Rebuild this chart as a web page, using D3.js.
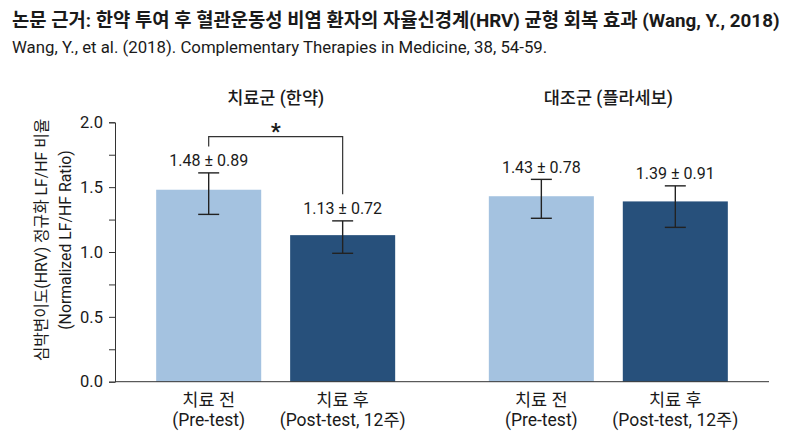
<!DOCTYPE html>
<meta charset="utf-8">
<title>HRV LF/HF ratio</title>
<style>
  body { margin: 0; background: #fff; }
  svg text { font-family: Roboto, "Noto Sans CJK KR", sans-serif; fill: #1a1a1a; }
  .axis path, .axis line { stroke: #333; }
</style>
<body>
<script src="https://cdn.jsdelivr.net/npm/d3@7/dist/d3.min.js"></script>
<script>

////* data *////
const groups = ["치료군 (한약)", "대조군 (플라세보)"];
const phases = ["pre", "post"];
const phaseLabels = [["치료 전", "(Pre-test)"], ["치료 후", "(Post-test, 12주)"]];
const means = [[1.48, 1.13], [1.43, 1.39]];
const sds = [[0.89, 0.72], [0.78, 0.91]];
// whisker lengths as drawn in the picture (above / below the mean)
const errUp = [[0.13, 0.11], [0.13, 0.12]];
const errDown = [[0.19, 0.14], [0.17, 0.20]];
const yTicks = [0, 0.25, 0.5, 0.75, 1.0, 1.25, 1.5, 1.75, 2.0];
const sigMark = "*";

const W = 800, H = 436;
const plot = { left: 115, right: 769, top: 122.3, bottom: 381.7 };
const colors = { pre: "#a4c2e0", post: "#27507b" };

const svg = d3.select("body").append("svg")
   .attr("width", W)
   .attr("height", H);

////* scales *////
const yScale = d3.scaleLinear()
   .domain([0, 2])
   .range([plot.bottom, plot.top]);

const groupScale = d3.scalePoint()
   .domain(groups)
   .range([plot.left, plot.right])
   .padding(0.483);

const phaseScale = d3.scaleBand()
   .domain(phases)
   .range([-119.5, 119.5])
   .paddingInner(0.216)
   .paddingOuter(0);

// flatten into one row per bar
const bars = [];
groups.forEach((g, gi) => {
   phases.forEach((p, pi) => {
      bars.push({ group: g, phase: p, gi, pi,
         mean: means[gi][pi], sd: sds[gi][pi],
         up: errUp[gi][pi], down: errDown[gi][pi],
         label: phaseLabels[pi] });
   });
});
const barX = d => groupScale(d.group) + phaseScale(d.phase);
const barCx = d => barX(d) + phaseScale.bandwidth() / 2;

////* titles *////
svg.append("text")
   .attr("x", 12).attr("y", 27)
   .style("font-size", "18.8px").style("font-weight", "bold")
   .text("논문 근거: 한약 투여 후 혈관운동성 비염 환자의 자율신경계(HRV) 균형 회복 효과 (Wang, Y., 2018)");

svg.append("text")
   .attr("x", 12).attr("y", 53)
   .style("font-size", "16.8px")
   .text("Wang, Y., et al. (2018). Complementary Therapies in Medicine, 38, 54-59.");

svg.selectAll("text.group")
   .data(groups)
   .join("text")
   .attr("class", "group")
   .attr("x", d => groupScale(d))
   .attr("y", 104)
   .attr("text-anchor", "middle")
   .style("font-size", "17.5px").style("font-weight", 500)
   .text(d => d);

////* bars *////
svg.append("g")
   .selectAll("rect")
   .data(bars)
   .join("rect")
   .attr("x", barX)
   .attr("y", d => yScale(d.mean))
   .attr("width", phaseScale.bandwidth())
   .attr("height", d => yScale(0) - yScale(d.mean))
   .attr("fill", d => colors[d.phase]);

////* error bars *////
const capHalf = 10.5;
const eb = svg.append("g")
   .attr("stroke", "#222")
   .attr("stroke-width", 1.4);
bars.forEach(d => {
   const cx = barCx(d), y1 = yScale(d.mean + d.up), y0 = yScale(d.mean - d.down);
   eb.append("line").attr("x1", cx).attr("x2", cx).attr("y1", y1).attr("y2", y0);
   eb.append("line").attr("x1", cx - capHalf).attr("x2", cx + capHalf).attr("y1", y1).attr("y2", y1);
   eb.append("line").attr("x1", cx - capHalf).attr("x2", cx + capHalf).attr("y1", y0).attr("y2", y0);
});

svg.selectAll("text.value")
   .data(bars)
   .join("text")
   .attr("class", "value")
   .attr("x", barCx)
   .attr("y", d => yScale(d.mean + d.up) - 6.5)
   .attr("text-anchor", "middle")
   .style("font-size", "16px")
   .text(d => `${d.mean.toFixed(2)} ± ${d.sd.toFixed(2)}`);

////* significance bracket (treatment group) *////
const sigBars = bars.filter(d => d.gi === 0);
const bracketTop = yScale(1.89);
const legEnd = d => yScale(d.mean + d.up) - 26.5;
svg.append("path")
   .attr("fill", "none")
   .attr("stroke", "#333")
   .attr("stroke-width", 1.2)
   .attr("d", d3.line()([
      [barCx(sigBars[0]), legEnd(sigBars[0])],
      [barCx(sigBars[0]), bracketTop],
      [barCx(sigBars[1]), bracketTop],
      [barCx(sigBars[1]), legEnd(sigBars[1])]
   ]));
svg.append("text")
   .attr("x", (barCx(sigBars[0]) + barCx(sigBars[1])) / 2)
   .attr("y", bracketTop + 2)
   .attr("text-anchor", "middle")
   .style("font-size", "22px").style("font-weight", "bold")
   .text(sigMark);

////* axes *////
const yAxis = d3.axisLeft(yScale)
   .tickValues(yTicks)
   .tickSizeOuter(0)
   .tickSize(6)
   .tickPadding(6)
   .tickFormat(v => (Math.round(v * 100) % 50 === 0 ? d3.format(".1f")(v) : ""));

svg.append("g")
   .attr("class", "axis")
   .attr("transform", `translate(${plot.left},0)`)
   .call(yAxis)
   .call(g => g.selectAll("text").style("font-size", "16.5px").attr("fill", "#1a1a1a"));

svg.append("line")
   .attr("x1", plot.left).attr("x2", plot.right)
   .attr("y1", yScale(0)).attr("y2", yScale(0))
   .attr("stroke", "#333");

svg.selectAll("text.xlab")
   .data(bars)
   .join("text")
   .attr("class", "xlab")
   .attr("text-anchor", "middle")
   .style("font-size", "17.5px")
   .each(function(d) {
      d3.select(this).selectAll("tspan")
         .data(d.label)
         .join("tspan")
         .attr("x", barCx(d))
         .attr("y", (t, i) => 406 + i * 20)
         .text(t => t);
   });

const yLabel = svg.append("text")
   .attr("transform", "translate(0,240) rotate(-90)")
   .attr("text-anchor", "middle")
   .style("font-size", "15.8px");
yLabel.append("tspan").attr("x", 0).attr("y", 47).text("심박변이도(HRV) 정규화 LF/HF 비율");
yLabel.append("tspan").attr("x", 0).attr("y", 71).text("(Normalized LF/HF Ratio)");

</script>
</body>
